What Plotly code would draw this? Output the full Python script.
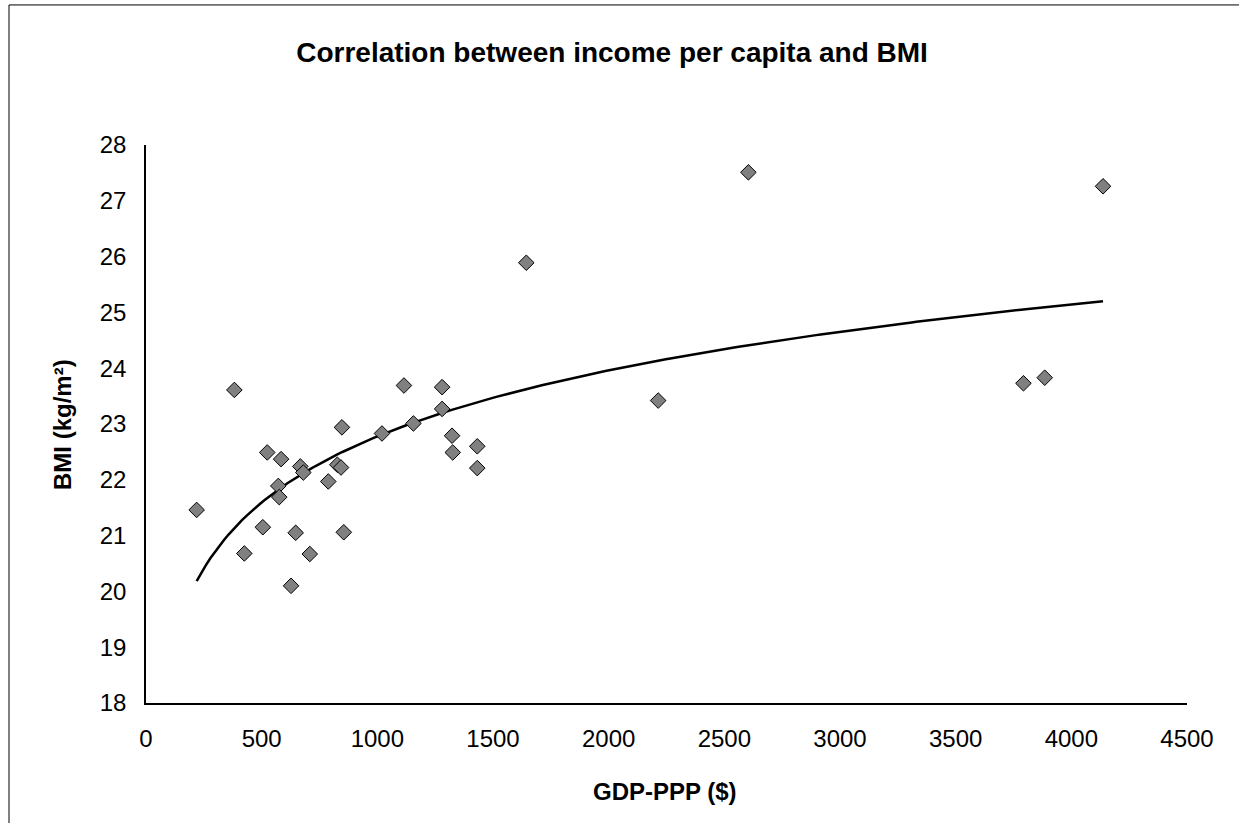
import numpy as np
import plotly.graph_objects as go

gdp = [219, 382, 425, 505, 524, 584, 572, 576, 627, 647, 667, 680, 708, 788, 827, 843,
       847, 855, 1020, 1115, 1156, 1280, 1280, 1323, 1326, 1432, 1432, 1644, 2214, 2604,
       3793, 3885, 4137]
bmi = [21.46, 23.61, 20.68, 21.15, 22.49, 22.37, 21.89, 21.69, 20.10, 21.05, 22.24, 22.13,
       20.67, 21.97, 22.27, 22.22, 22.94, 21.06, 22.83, 23.69, 23.01, 23.66, 23.27, 22.79,
       22.49, 22.60, 22.21, 25.89, 23.42, 27.51, 23.73, 23.83, 27.26]

# logarithmic trendline fitted to the data
b, a = np.polyfit(np.log(gdp), bmi, 1)
xt = np.linspace(min(gdp), max(gdp), 200)
yt = a + b * np.log(xt)

fig = go.Figure()
fig.add_trace(go.Scatter(x=xt, y=yt, mode="lines",
                         line=dict(color="black", width=2.5), hoverinfo="skip"))
fig.add_trace(go.Scatter(x=gdp, y=bmi, mode="markers",
                         marker=dict(symbol="diamond", size=12, color="#808080",
                                     line=dict(color="black", width=1))))

font = "Liberation Sans, Arial, sans-serif"
fig.update_layout(
    width=1239, height=823,
    margin=dict(l=146, r=52, t=145, b=120),
    paper_bgcolor="white", plot_bgcolor="white",
    showlegend=False,
    font=dict(family=font, size=24, color="black"),
    title=dict(text="<b>Correlation between income per capita and BMI</b>",
               x=0.494, xanchor="center", y=0.9368, yanchor="middle",
               font=dict(size=28, family=font)),
    xaxis=dict(range=[0, 4500], dtick=500, tick0=0, showgrid=False, zeroline=False,
               showline=True, linecolor="black", linewidth=1.5, ticks="", ticklen=0,
               ticklabelstandoff=13, tickfont=dict(size=24)),
    yaxis=dict(range=[18, 28], dtick=1, tick0=18, showgrid=False, zeroline=False,
               showline=True, linecolor="black", linewidth=1.5, ticks="", ticklen=0,
               ticklabelstandoff=13, tickfont=dict(size=24)),
    annotations=[
        dict(text="<b>GDP-PPP ($)</b>", xref="paper", yref="paper", x=0.4985, y=-0.158,
             xanchor="center", yanchor="middle", showarrow=False, font=dict(size=24)),
        dict(text="<b>BMI (kg/m²)</b>", xref="paper", yref="paper", x=-0.0807, y=0.5,
             xanchor="center", yanchor="middle", textangle=-90, showarrow=False,
             font=dict(size=24)),
    ],
    shapes=[dict(type="rect", xref="paper", yref="paper",
                 x0=-0.1316, x1=1.06, y0=-0.23, y1=1.251,
                 line=dict(color="black", width=1), fillcolor="rgba(0,0,0,0)")],
)

fig.write_html("out.html", config={"displayModeBar": False},
               post_script="document.body.style.margin='0';")
